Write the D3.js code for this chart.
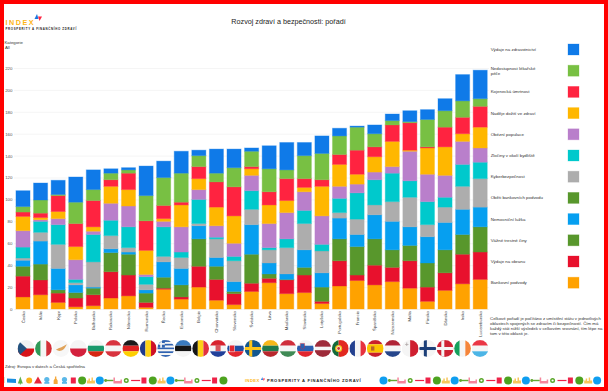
<!DOCTYPE html>
<html>
<head>
<meta charset="utf-8">
<script src="https://cdn.jsdelivr.net/npm/d3@7"></script>
<style>
    html, body { margin: 0; padding: 0; background: #fff; }
    svg { display: block; font-family: "Liberation Sans", Arial, sans-serif; }
</style>
</head>
<body>
<div id="chart"></div>
<script>
// Data
const countries = ["Česko", "Itálie", "Kypr", "Polsko", "Bulharsko", "Rakousko", "Německo", "Rumunsko", "Řecko", "Estonsko", "Belgie", "Chorvatsko", "Slovensko", "Švédsko", "Litva", "Maďarsko", "Slovinsko", "Lotyšsko", "Portugalsko", "Francie", "Španělsko", "Nizozemsko", "Malta", "Finsko", "Dánsko", "Irsko", "Lucembursko"];

const bankovniPodvody = [11, 13, 6, 2, 3, 10, 12, 1.5, 18, 9, 20, 8, 4, 16, 24, 14, 15, 5, 21, 26, 22, 25, 19, 7, 17, 23, 27];
const vydajeObrana = [19, 13.5, 8.5, 8, 10, 24, 19, 4.5, 1, 2, 19, 19, 10, 7.5, 4, 12.5, 16, 2, 23, 5, 18, 13, 25, 13, 16, 27, 25];
const vazneCiny = [9, 14.5, 3, 5, 6, 17.5, 19, 8.5, 10, 11, 25, 12, 2, 26.5, 4, 0.5, 7, 13, 20, 26, 24, 16, 14, 22, 21, 18, 23];
const nemocnicniLuzka = [5.5, 21, 19.5, 7, 1, 3.5, 2, 3, 14, 15, 12, 8, 9, 27, 10, 5, 16, 13, 19, 11, 22, 26, 17, 24, 25, 23, 18];
// no visible band for this one in the picture, it only has a legend row
const obetiPodvodu = [0, 0, 0, 0, 0, 0, 0, 0, 0, 0, 0, 0, 0, 0, 0, 0, 0, 0, 0, 0, 0, 0, 0, 0, 0, 0, 0];
const kyberbezpecnost = [2, 8, 22, 2, 23, 12, 4, 5, 5, 10, 2, 17, 19, 14, 12, 24, 24, 20, 5, 14, 9, 18, 27, 11, 14, 21, 26];
const zlociny = [10, 10, 18, 3, 25, 14, 19, 7, 27, 5, 22, 1.5, 4, 17, 2, 8, 12, 6, 13, 24, 23, 26, 15, 21, 9, 20, 15];
const obezni = [15, 1.5, 5.5, 18, 3, 15.5, 19, 2, 5, 23, 9, 10.5, 12, 14, 22, 24, 17, 26, 11, 8, 7, 6, 27, 25, 20, 21, 13];
const nadeje = [13, 2, 6.5, 12, 4, 15.5, 15, 22, 2.5, 20, 10, 17, 25, 6, 17, 11, 4, 27, 20, 9, 14, 23, 1, 24, 26, 7, 19];
const kojenecka = [4, 4, 14.5, 21, 24, 6, 15, 27, 12, 2.5, 11, 23, 26.5, 2, 12, 20, 8, 6, 9, 22, 9, 15, 25, 1, 18, 15, 19];
const nedostupnost = [5, 12, 1, 19.5, 10, 6, 3, 23, 25.5, 26.5, 10, 8, 17.5, 14, 21, 8, 21, 24, 17, 21, 12, 4, 1, 25, 15, 15, 7];
const vydajeZdravi = [14.5, 15.5, 13, 23, 18, 4, 2, 27, 15, 20, 5, 22, 17, 3, 21, 25, 12, 16, 7, 1, 8, 6, 10, 9, 11, 24, 26];

const seriesNames = ["Bankovní podvody", "Výdaje na obranu", "Vážné trestné činy", "Nemocniční lůžka", "Oběti bankovních podvodů", "Kyberbezpečnost", "Zločiny v okolí bydliště", "Obézní populace", "Naděje dožití ve zdraví", "Kojenecká úmrtnost", "Nedostupnost lékařské péče", "Výdaje na zdravotnictví"];
const seriesValues = [bankovniPodvody, vydajeObrana, vazneCiny, nemocnicniLuzka, obetiPodvodu, kyberbezpecnost, zlociny, obezni, nadeje, kojenecka, nedostupnost, vydajeZdravi];
const seriesColors = ["#ffa200", "#e8112d", "#58972c", "#069ff0", "#58972c", "#adadad", "#00c9cc", "#b97fcb", "#ffb700", "#ff2340", "#78c043", "#0f7ae8"];
const yTicks = [0, 20, 40, 60, 80, 100, 120, 140, 160, 180, 200, 220];

const noteLines = [
    "Celkové pořadí je počítáno z umístění států v jednotlivých",
    "oblastech spojených se zdravím či bezpečností. Čím má",
    "každý stát nižší výsledek v celkovém srovnání, tím lépe na",
    "tom v této oblasti je."
];

const width = 608, height = 391;

const svg = d3.select("#chart")
    .append("svg")
    .attr("width", width)
    .attr("height", height);

svg.append("rect")
    .attr("width", width)
    .attr("height", height)
    .attr("fill", "#fff");

// Scales
const x = d3.scaleBand()
    .domain(countries)
    .range([14.2, 489])
    .paddingInner(0.2)
    .paddingOuter(0.1);

const y = d3.scaleLinear()
    .domain([0, 220])
    .range([309, 68]);

// Horizontal grid and y labels
const yAxis = svg.append("g")
    .attr("transform", "translate(14,0)")
    .call(d3.axisLeft(y).tickValues(yTicks).tickSize(-475).tickPadding(1.5));
yAxis.select(".domain").remove();
yAxis.selectAll("line").attr("stroke", "#f3f3f3").attr("stroke-width", 0.8);
yAxis.selectAll("text")
    .attr("font-size", "4.4px")
    .attr("font-family", "Liberation Sans, Arial, sans-serif")
    .attr("fill", "#555");

// Build the stacked table
const table = countries.map((c, i) => {
    const row = {country: c};
    seriesNames.forEach((s, j) => { row[s] = seriesValues[j][i]; });
    return row;
});
const stacked = d3.stack().keys(seriesNames)(table);

// Bars
svg.append("g")
    .selectAll("g")
    .data(stacked)
    .join("g")
    .attr("fill", (d, i) => seriesColors[i])
    .attr("stroke", (d, i) => seriesColors[i])
    .selectAll("rect")
    .data(d => d.filter(p => p[1] > p[0]))
    .join("rect")
    .attr("x", d => x(d.data.country))
    .attr("y", d => y(d[1]))
    .attr("width", x.bandwidth())
    .attr("height", d => y(d[0]) - y(d[1]))
    .attr("stroke-width", 1)
    .attr("stroke-opacity", 0.35);

// Rotated country labels
const xAxis = svg.append("g")
    .attr("transform", "translate(0,309)")
    .call(d3.axisBottom(x).tickSize(0).tickPadding(0));
xAxis.select(".domain").remove();
xAxis.selectAll("text")
    .attr("transform", "rotate(-90)")
    .attr("x", -2)
    .attr("y", 0)
    .attr("dy", "0.35em")
    .attr("text-anchor", "end")
    .attr("font-size", "4.3px")
    .attr("font-family", "Liberation Sans, Arial, sans-serif")
    .attr("fill", "#444");

// Title
svg.append("text")
    .attr("x", 288.5)
    .attr("y", 23.5)
    .attr("text-anchor", "middle")
    .attr("font-size", "7.2px")
    .attr("fill", "#222")
    .text("Rozvoj zdraví a bezpečnosti: pořadí");

// Category filter caption
svg.append("text").attr("x", 4.5).attr("y", 43.5).attr("font-size", "4.3px").attr("fill", "#333").text("Kategorie");
svg.append("text").attr("x", 5).attr("y", 48.5).attr("font-size", "4.3px").attr("fill", "#333").text("All");

// Logo top left
svg.append("text")
    .attr("x", 5.5)
    .attr("y", 24.5)
    .attr("font-size", "7.2px")
    .attr("font-weight", "bold")
    .attr("letter-spacing", "1.55px")
    .attr("fill", "#fdb515")
    .text("INDEX");
svg.append("text")
    .attr("x", 5.5)
    .attr("y", 29.8)
    .attr("font-size", "2.9px")
    .attr("font-weight", "bold")
    .attr("letter-spacing", "0.66px")
    .attr("fill", "#222")
    .text("PROSPERITY A FINANČNÍHO ZDRAVÍ");
svg.append("path").attr("d", "M34.5,19L37,14L38.5,19Z").attr("fill", "#1976e0");
svg.append("path").attr("d", "M38,16.5L42,16.5L39.5,21Z").attr("fill", "#ff2340");

// Legend, top row is the top of the stack
const legendNames = seriesNames.slice().reverse();
const legendColors = seriesColors.slice().reverse();
const legendY = d3.scalePoint().domain(legendNames).range([49.5, 282.7]);

const legend = svg.append("g")
    .selectAll("g")
    .data(legendNames)
    .join("g")
    .attr("transform", d => `translate(0,${legendY(d)})`);

legend.append("rect")
    .attr("x", 568)
    .attr("y", -5.5)
    .attr("width", 11)
    .attr("height", 11)
    .attr("fill", (d, i) => legendColors[i])
    .attr("stroke", (d, i) => legendColors[i])
    .attr("stroke-opacity", 0.35)
    .attr("stroke-width", 0.8);

legend.append("text")
    .attr("x", 490.7)
    .attr("y", 1.5)
    .attr("font-size", "4.4px")
    .attr("fill", "#333")
    .each(function (d) {
        // the one long name breaks over two lines
        if (d === "Nedostupnost lékařské péče") {
            d3.select(this).append("tspan").attr("x", 490.7).attr("y", -1).text("Nedostupnost lékařské");
            d3.select(this).append("tspan").attr("x", 490.7).attr("y", 4).text("péče");
        } else {
            d3.select(this).text(d);
        }
    });

// Note under the legend
svg.append("g")
    .selectAll("text")
    .data(noteLines)
    .join("text")
    .attr("x", 490)
    .attr("y", (d, i) => 319.5 + i * 5.2)
    .attr("font-size", "4.35px")
    .attr("fill", "#333")
    .text(d => d);

// Source
svg.append("text")
    .attr("x", 5)
    .attr("y", 368)
    .attr("font-size", "4.3px")
    .attr("fill", "#333")
    .text("Zdroj: Evropa v datech a Česká spořitelna");

// Flags, drawn in a box of -10..10 and clipped to a circle
function stripesH(g, colors, shares) {
    let top = -10;
    colors.forEach((c, i) => {
        const h = 20 * (shares ? shares[i] : 1 / colors.length);
        g.append("rect").attr("x", -10).attr("y", top).attr("width", 20).attr("height", h).attr("fill", c);
        top += h;
    });
}
function stripesV(g, colors) {
    colors.forEach((c, i) => {
        const w = 20 / colors.length;
        g.append("rect").attr("x", -10 + i * w).attr("y", -10).attr("width", w).attr("height", 20).attr("fill", c);
    });
}
function nordicCross(g, back, cross) {
    g.append("rect").attr("x", -10).attr("y", -10).attr("width", 20).attr("height", 20).attr("fill", back);
    g.append("rect").attr("x", -10).attr("y", -1.8).attr("width", 20).attr("height", 3.6).attr("fill", cross);
    g.append("rect").attr("x", -4.5).attr("y", -10).attr("width", 3.6).attr("height", 20).attr("fill", cross);
}
function dot(g, cx, cy, r, c) {
    g.append("circle").attr("cx", cx).attr("cy", cy).attr("r", r).attr("fill", c);
}

const flags = {
    "Česko": g => { stripesH(g, ["#f2f2f2", "#d7141a"]); g.append("path").attr("d", "M-10,-10L1,0L-10,10Z").attr("fill", "#24527f"); },
    "Itálie": g => stripesV(g, ["#2f9a58", "#f5f5f5", "#d32f37"]),
    "Kypr": g => { stripesH(g, ["#f7f7f7"]); g.append("path").attr("d", "M-6,1.5C-2,-1 3,-2 7,-5C5,0 2,3 -2,3Z").attr("fill", "#e0a35a"); },
    "Polsko": g => stripesH(g, ["#f5f5f5", "#d4213d"]),
    "Bulharsko": g => stripesH(g, ["#f5f5f5", "#1a9a6c", "#d62612"]),
    "Rakousko": g => stripesH(g, ["#d8333f", "#f5f5f5", "#d8333f"]),
    "Německo": g => stripesH(g, ["#1a1a1a", "#dd2222", "#fdcf00"]),
    "Rumunsko": g => stripesV(g, ["#1f3a8c", "#fcd116", "#ce1126"]),
    "Řecko": g => {
        stripesH(g, ["#2f62b0", "#f5f5f5", "#2f62b0", "#f5f5f5", "#2f62b0", "#f5f5f5", "#2f62b0", "#f5f5f5", "#2f62b0"]);
        g.append("rect").attr("x", -10).attr("y", -10).attr("width", 9).attr("height", 9).attr("fill", "#2f62b0");
        g.append("rect").attr("x", -6.5).attr("y", -10).attr("width", 2).attr("height", 9).attr("fill", "#f5f5f5");
        g.append("rect").attr("x", -10).attr("y", -6.5).attr("width", 9).attr("height", 2).attr("fill", "#f5f5f5");
    },
    "Estonsko": g => stripesH(g, ["#3a7bbf", "#161616", "#f5f5f5"]),
    "Belgie": g => stripesV(g, ["#161616", "#fcd116", "#e2323f"]),
    "Chorvatsko": g => { stripesH(g, ["#d8222f", "#f5f5f5", "#21409a"]); g.append("rect").attr("x", -3).attr("y", -4.5).attr("width", 6).attr("height", 7.5).attr("fill", "#d8545c"); },
    "Slovensko": g => { stripesH(g, ["#f5f5f5", "#1d4fa3", "#e2262f"]); g.append("rect").attr("x", -7).attr("y", -4).attr("width", 6).attr("height", 8).attr("fill", "#e2262f").attr("stroke", "#fff").attr("stroke-width", 0.6); },
    "Švédsko": g => nordicCross(g, "#12578f", "#fcc419"),
    "Litva": g => stripesH(g, ["#f6b81a", "#1f7a4c", "#b8272d"]),
    "Maďarsko": g => stripesH(g, ["#cf2e3c", "#f5f5f5", "#3f8a55"]),
    "Slovinsko": g => { stripesH(g, ["#f5f5f5", "#2a5fb0", "#e2262f"]); g.append("path").attr("d", "M-6,-6L-1,-6L-1,-1L-3.5,1L-6,-1Z").attr("fill", "#2a5fb0").attr("stroke", "#e2262f").attr("stroke-width", 0.5); },
    "Lotyšsko": g => stripesH(g, ["#9e2b3a", "#f5f5f5", "#9e2b3a"], [0.4, 0.2, 0.4]),
    "Portugalsko": g => {
        g.append("rect").attr("x", -10).attr("y", -10).attr("width", 8).attr("height", 20).attr("fill", "#146b3a");
        g.append("rect").attr("x", -2).attr("y", -10).attr("width", 12).attr("height", 20).attr("fill", "#e2281f");
        dot(g, -2, 0, 4.2, "#f3c31b");
        dot(g, -2, 0, 2.6, "#f5f5f5");
        dot(g, -2, 0, 1.7, "#d32f2f");
    },
    "Francie": g => stripesV(g, ["#23408f", "#f5f5f5", "#e7323f"]),
    "Španělsko": g => { stripesH(g, ["#c9202c", "#fbc400", "#c9202c"], [0.25, 0.5, 0.25]); g.append("rect").attr("x", -5).attr("y", -2.5).attr("width", 4).attr("height", 5).attr("fill", "#b8642a"); },
    "Nizozemsko": g => stripesH(g, ["#b02436", "#f5f5f5", "#26468c"]),
    "Malta": g => {
        stripesV(g, ["#f5f5f5", "#cf1f30"]);
        g.append("path").attr("d", "M-4.5,-7L-3.5,-7L-3.5,-5.5L-2,-5.5L-2,-4.5L-3.5,-4.5L-3.5,-3L-4.5,-3L-4.5,-4.5L-6,-4.5L-6,-5.5L-4.5,-5.5Z").attr("fill", "#b0a8a8");
    },
    "Finsko": g => nordicCross(g, "#f5f5f5", "#1c3f78"),
    "Dánsko": g => nordicCross(g, "#cf2233", "#f5f5f5"),
    "Irsko": g => stripesV(g, ["#15a05c", "#f5f5f5", "#f5853a"]),
    "Lucembursko": g => stripesH(g, ["#ea3645", "#f5f5f5", "#4cb5e6"])
};

const flagX = d3.scalePoint().domain(countries).range([26, 480]);

svg.append("defs").append("clipPath")
    .attr("id", "flag-clip")
    .append("circle")
    .attr("r", 10);

const flagRow = svg.append("g")
    .selectAll("g")
    .data(countries)
    .join("g")
    .attr("transform", d => `translate(${flagX(d)},348.5) scale(0.84)`)
    .attr("clip-path", "url(#flag-clip)");
flagRow.each(function (d) { flags[d](d3.select(this)); });

// Strip of little icons along the bottom
const icons = {
    greenCircle: g => dot(g, 0, 0, 4, "#4da31f"),
    blueCircle: g => dot(g, 0, 0, 4, "#0f9ef0"),
    orangeCircle: g => dot(g, 0, 0, 3, "#fbb117"),
    ring: g => { g.append("circle").attr("r", 1.8).attr("fill", "#fff").attr("stroke", "#5aa72a").attr("stroke-width", 1.4); },
    redSquare: g => g.append("rect").attr("x", -2.5).attr("y", -3).attr("width", 5).attr("height", 6).attr("fill", "#ee2248"),
    redBar: g => g.append("rect").attr("x", -4).attr("y", -0.6).attr("width", 9).attr("height", 1.2).attr("fill", "#ee2248"),
    key: g => { g.append("rect").attr("x", -4).attr("y", -0.7).attr("width", 9).attr("height", 1.4).attr("fill", "#63a732"); dot(g, -3, 0, 1.4, "#63a732"); },
    factory: g => g.append("path").attr("d", "M-4,3L-4,-3L-2.5,-3L-2.5,0.5L3,0.5L3,-1L4.5,-1L4.5,3Z").attr("fill", "#f5859b"),
    bars: g => g.append("path").attr("d", "M-4,3L-4,0L-2.5,0L-2.5,-2L-1,-2L-1,0.5L0.5,0.5L0.5,-3L2,-3L2,0L4,0L4,3Z").attr("fill", "#f7c65b"),
    blueRect: g => g.append("path").attr("d", "M-4.5,-2L4.5,-1.5L4.5,2.5L-4.5,2Z").attr("fill", "#1a8fe0"),
    tree: g => g.append("path").attr("d", "M0,-4L2.5,3L0.5,3L0.5,4L-0.5,4L-0.5,3L-2.5,3Z").attr("fill", "#5fb04a"),
    redTriangle: g => g.append("path").attr("d", "M0,-4L4,3L-4,3Z").attr("fill", "#e8273a"),
    badge: g => { dot(g, 0, -1, 2.6, "#5bb8e8"); g.append("rect").attr("x", -2.5).attr("y", 1.5).attr("width", 5).attr("height", 1.8).attr("fill", "#5bb8e8"); },
    bottle: g => g.append("path").attr("d", "M-0.7,-4L0.7,-4L0.7,-2L2,0L2,3.5L-2,3.5L-2,0L-0.7,-2Z").attr("fill", "#f5a83c")
};
const iconCycle = ["greenCircle", "bars", "blueCircle", "key", "factory", "ring", "redBar", "redSquare"];
const leftIcons = ["blueRect", "tree", "orangeCircle", "redTriangle", "badge", "bottle", "badge", "redSquare"]
    .concat(iconCycle, iconCycle, ["greenCircle"]);
const rightIcons = iconCycle.slice(2).concat(iconCycle, iconCycle, iconCycle).slice(0, 25);

const iconRow = svg.append("g");
leftIcons.forEach((name, i) => {
    const g = iconRow.append("g").attr("transform", `translate(${11.5 + i * 8.83},380.5)`);
    icons[name](g);
});
rightIcons.forEach((name, i) => {
    const g = iconRow.append("g").attr("transform", `translate(${383.5 + i * 8.9},380.5)`);
    icons[name](g);
});
iconRow.append("rect").attr("x", 3).attr("y", 377).attr("width", 1.2).attr("height", 6).attr("fill", "#4da31f");

// Wordmark in the middle of the strip
svg.append("text")
    .attr("x", 245).attr("y", 382)
    .attr("font-size", "4.1px").attr("font-weight", "bold")
    .attr("letter-spacing", "0.4px").attr("fill", "#fdb515")
    .text("INDEX");
svg.append("text")
    .attr("x", 267).attr("y", 382)
    .attr("font-size", "4.1px").attr("font-weight", "bold")
    .attr("letter-spacing", "0.71px").attr("fill", "#222")
    .text("PROSPERITY A FINANČNÍHO ZDRAVÍ");
svg.append("path").attr("d", "M261,380L262.3,377L263,380Z").attr("fill", "#1976e0");
svg.append("path").attr("d", "M263,378.5L265,378.5L263.7,381Z").attr("fill", "#ff2340");

// Red frame around the whole picture
svg.append("rect")
    .attr("x", 2)
    .attr("y", 2)
    .attr("width", width - 4)
    .attr("height", height - 4)
    .attr("fill", "none")
    .attr("stroke", "#ff0000")
    .attr("stroke-width", 4);
</script>
</body>
</html>
